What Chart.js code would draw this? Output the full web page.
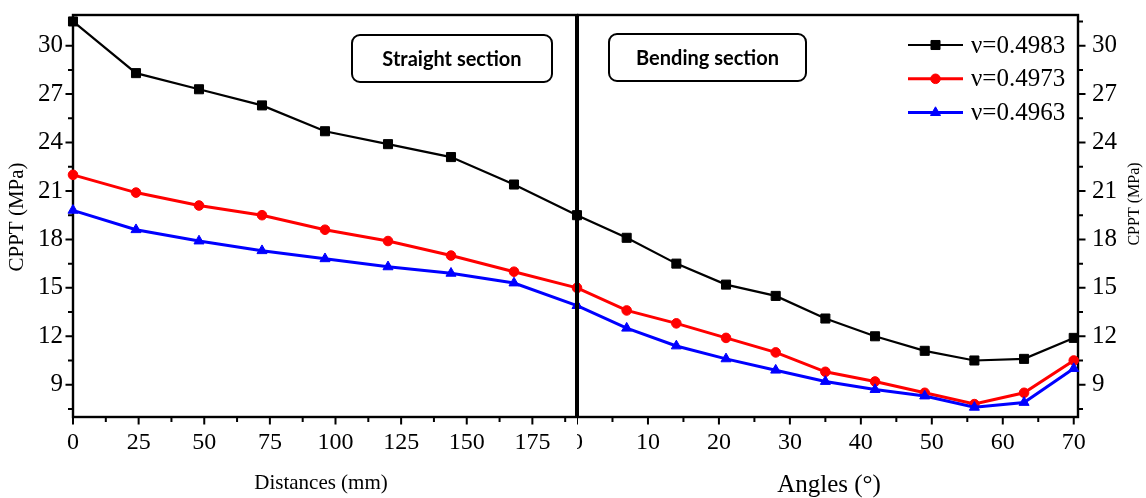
<!DOCTYPE html>
<html>
<head>
<meta charset="utf-8">
<title>CPPT along straight and bending sections</title>
<script src="https://cdn.jsdelivr.net/npm/chart.js@4.4.1/dist/chart.umd.min.js"></script>
<style>
  html, body { margin: 0; padding: 0; background: #ffffff; }
  #stage { position: relative; width: 1146px; height: 498px; overflow: hidden; background: #ffffff; }
  #stage canvas { position: absolute; top: 0; }
  #straight { left: 0; }
  #bending { left: 577px; }
</style>
</head>
<body>
<div id="stage">
  <canvas id="straight" width="580" height="498"></canvas>
  <canvas id="bending" width="569" height="498"></canvas>
</div>
<script>
// ---- data ----
const distances = [0, 24, 48, 72, 96, 120, 144, 168, 192];
const angles = [0, 7, 14, 21, 28, 35, 42, 49, 56, 63, 70];

const straightV4983 = [31.5, 28.3, 27.3, 26.3, 24.7, 23.9, 23.1, 21.4, 19.5];
const straightV4973 = [22.0, 20.9, 20.1, 19.5, 18.6, 17.9, 17.0, 16.0, 15.0];
const straightV4963 = [19.8, 18.6, 17.9, 17.3, 16.8, 16.3, 15.9, 15.3, 13.9];

const bendingV4983 = [19.5, 18.1, 16.5, 15.2, 14.5, 13.1, 12.0, 11.1, 10.5, 10.6, 11.9];
const bendingV4973 = [15.0, 13.6, 12.8, 11.9, 11.0, 9.8, 9.2, 8.5, 7.8, 8.5, 10.5];
const bendingV4963 = [13.9, 12.5, 11.4, 10.6, 9.9, 9.2, 8.7, 8.3, 7.6, 7.9, 10.0];

const seriesLabels = ['ν=0.4983', 'ν=0.4973', 'ν=0.4963'];

const cpptTicks = [7.5, 9, 10.5, 12, 13.5, 15, 16.5, 18, 19.5, 21, 22.5, 24, 25.5, 27, 28.5, 30, 31.5];
const cpptLabels = [9, 12, 15, 18, 21, 24, 27, 30];
const distanceTicks = [0, 12.5, 25, 37.5, 50, 62.5, 75, 87.5, 100, 112.5, 125, 137.5, 150, 162.5, 175, 187.5];
const distanceLabels = [0, 25, 50, 75, 100, 125, 150, 175];
const angleTicks = [0, 5, 10, 15, 20, 25, 30, 35, 40, 45, 50, 55, 60, 65, 70];
const angleLabels = [0, 10, 20, 30, 40, 50, 60, 70];

// ---- styling ----
const SERIF = 'Liberation Serif, serif';
Chart.defaults.font.family = SERIF;
Chart.defaults.color = '#000';

const seriesStyle = [
  { color: '#000000', pointStyle: 'rect', radius: 6.4, lineWidth: 2.2, order: 2 },
  { color: '#ff0000', pointStyle: 'circle', radius: 4.8, lineWidth: 3, order: 1 },
  { color: '#0000ff', pointStyle: 'triangle', radius: 5.8, lineWidth: 3, order: 0 }
];

function isLabelled(list, v) {
  return list.some(l => Math.abs(l - v) < 1e-6);
}

function toPoints(xs, ys) {
  return xs.map((x, i) => ({ x: x, y: ys[i] }));
}

function buildDatasets(xs, seriesList) {
  return seriesList.map((ys, i) => {
    const s = seriesStyle[i];
    return {
      label: seriesLabels[i],
      data: toPoints(xs, ys),
      borderColor: s.color,
      backgroundColor: s.color,
      borderWidth: s.lineWidth,
      pointStyle: s.pointStyle,
      pointRadius: s.radius,
      pointBorderWidth: 1,
      pointBorderColor: s.color,
      pointBackgroundColor: s.color,
      tension: 0,
      clip: false,
      order: s.order
    };
  });
}

function drawMarker(ctx, style, x, y, r, color) {
  ctx.save();
  ctx.fillStyle = color;
  ctx.strokeStyle = color;
  ctx.lineWidth = 1;
  ctx.beginPath();
  if (style === 'rect') {
    const h = r * Math.SQRT1_2;
    ctx.rect(x - h, y - h, 2 * h, 2 * h);
  } else if (style === 'circle') {
    ctx.arc(x, y, r, 0, Math.PI * 2);
  } else {
    const side = 3 * r / Math.sqrt(3);
    const height = side * Math.sqrt(3) / 2;
    ctx.moveTo(x - side / 2, y + height / 3);
    ctx.lineTo(x + side / 2, y + height / 3);
    ctx.lineTo(x, y - 2 * height / 3);
    ctx.closePath();
  }
  ctx.fill();
  ctx.stroke();
  ctx.restore();
}

function roundedBox(ctx, x, y, w, h, r) {
  ctx.beginPath();
  ctx.moveTo(x + r, y);
  ctx.lineTo(x + w - r, y);
  ctx.arcTo(x + w, y, x + w, y + r, r);
  ctx.lineTo(x + w, y + h - r);
  ctx.arcTo(x + w, y + h, x + w - r, y + h, r);
  ctx.lineTo(x + r, y + h);
  ctx.arcTo(x, y + h, x, y + h - r, r);
  ctx.lineTo(x, y + r);
  ctx.arcTo(x, y, x + r, y, r);
  ctx.closePath();
}

// Frame, tick marks, titles, section tag and (optionally) legend for one panel
function panelDecor(cfg) {
  return {
    id: 'panelDecor',
    beforeDatasetsDraw(chart) {
      const { ctx, chartArea: a, scales } = chart;
      ctx.save();
      ctx.strokeStyle = '#000';
      ctx.lineWidth = 2.4;
      ctx.strokeRect(a.left, a.top, a.right - a.left, a.bottom - a.top);
      ctx.lineWidth = 2;
      ctx.beginPath();
      scales.x.ticks.forEach(t => {
        const px = scales.x.getPixelForValue(t.value);
        const len = isLabelled(cfg.xLabels, t.value) ? 7.5 : 5;
        ctx.moveTo(px, a.bottom);
        ctx.lineTo(px, a.bottom + len);
      });
      scales.y.ticks.forEach(t => {
        const py = scales.y.getPixelForValue(t.value);
        const len = isLabelled(cpptLabels, t.value) ? 7.5 : 5;
        if (cfg.ySide === 'left') {
          ctx.moveTo(a.left - len, py);
          ctx.lineTo(a.left, py);
        } else {
          ctx.moveTo(a.right, py);
          ctx.lineTo(a.right + len, py);
        }
      });
      ctx.stroke();
      ctx.restore();
    },
    afterDatasetsDraw(chart) {
      const { ctx, chartArea: a } = chart;
      ctx.save();
      ctx.fillStyle = '#000';
      ctx.fillRect(cfg.dividerX - cfg.dividerLeft, a.top - 1, cfg.dividerW, a.bottom - a.top + 2);
      ctx.restore();
    },
    afterDraw(chart) {
      const { ctx } = chart;
      ctx.save();
      ctx.fillStyle = '#000';
      // x axis title
      ctx.font = cfg.xTitleFont;
      ctx.textAlign = 'center';
      ctx.textBaseline = 'middle';
      ctx.fillText(cfg.xTitle, cfg.xTitlePos[0], cfg.xTitlePos[1]);
      // y axis title
      ctx.save();
      ctx.translate(cfg.yTitlePos[0], cfg.yTitlePos[1]);
      ctx.rotate(-Math.PI / 2);
      ctx.font = cfg.yTitleFont;
      ctx.fillText('CPPT (MPa)', 0, 0);
      ctx.restore();
      // section tag
      const b = cfg.tag;
      ctx.lineWidth = 2;
      ctx.strokeStyle = '#000';
      roundedBox(ctx, b.x, b.y, b.w, b.h, 8);
      ctx.fillStyle = '#fff';
      ctx.fill();
      ctx.stroke();
      ctx.fillStyle = '#000';
      ctx.font = '700 20px Lato, sans-serif';
      ctx.fillText(b.text, b.x + b.w / 2, b.y + b.h / 2 + 1);
      // legend
      if (cfg.legend) {
        const L = cfg.legend;
        chart.data.datasets.forEach((ds, i) => {
          const s = seriesStyle[i];
          const y = L.y0 + i * L.dy;
          ctx.strokeStyle = s.color;
          ctx.lineWidth = s.lineWidth;
          ctx.beginPath();
          ctx.moveTo(L.x0, y);
          ctx.lineTo(L.x1, y);
          ctx.stroke();
          drawMarker(ctx, s.pointStyle, (L.x0 + L.x1) / 2, y, s.radius, s.color);
          ctx.fillStyle = '#000';
          ctx.font = '25px ' + SERIF;
          ctx.textAlign = 'left';
          ctx.textBaseline = 'middle';
          ctx.fillText(ds.label, L.tx, y + 1);
        });
      }
      ctx.restore();
    }
  };
}

function xScale(min, max, ticks, labels) {
  return {
    type: 'linear',
    position: 'bottom',
    min: min,
    max: max,
    afterBuildTicks: s => { s.ticks = ticks.map(v => ({ value: v })); },
    afterFit: s => { s.height = 81; s.paddingLeft = 0; s.paddingRight = 0; },
    grid: { display: false, drawTicks: false },
    border: { display: false },
    ticks: {
      autoSkip: false,
      maxRotation: 0,
      padding: 11,
      color: '#000',
      font: { family: SERIF, size: 24 },
      callback: v => isLabelled(labels, v) ? String(v) : ''
    }
  };
}

function yScale(position, width, padding) {
  return {
    type: 'linear',
    position: position,
    min: 7,
    max: 31.9,
    afterBuildTicks: s => { s.ticks = cpptTicks.map(v => ({ value: v })); },
    afterFit: s => { s.width = width; s.paddingTop = 0; s.paddingBottom = 0; },
    grid: { display: false, drawTicks: false },
    border: { display: false },
    ticks: {
      autoSkip: false,
      padding: padding,
      color: '#000',
      font: { family: SERIF, size: 25 },
      callback: v => isLabelled(cpptLabels, v) ? String(v) : ''
    }
  };
}

const common = {
  responsive: false,
  animation: false,
  devicePixelRatio: 1,
  plugins: { legend: { display: false }, tooltip: { enabled: false }, title: { display: false } },
  elements: { line: { borderJoinStyle: 'miter' } }
};

function start() {
  new Chart(document.getElementById('straight'), {
    type: 'line',
    data: { datasets: buildDatasets(distances, [straightV4983, straightV4973, straightV4963]) },
    options: Object.assign({}, common, {
      layout: { autoPadding: false, padding: { left: 0, top: 15, right: 3, bottom: 0 } },
      scales: { x: xScale(0, 192, distanceTicks, distanceLabels), y: yScale('left', 73, 10) }
    }),
    plugins: [panelDecor({
      ySide: 'left',
      xLabels: distanceLabels,
      dividerX: 577, dividerLeft: 2, dividerW: 4,
      xTitle: 'Distances (mm)', xTitleFont: '21px ' + SERIF, xTitlePos: [321, 483],
      yTitleFont: '21px ' + SERIF, yTitlePos: [17, 217],
      tag: { x: 352, y: 35, w: 200, h: 47, text: 'Straight section' }
    })]
  });

  new Chart(document.getElementById('bending'), {
    type: 'line',
    data: { datasets: buildDatasets(angles, [bendingV4983, bendingV4973, bendingV4963]) },
    options: Object.assign({}, common, {
      layout: { autoPadding: false, padding: { left: 0, top: 15, right: 0, bottom: 0 } },
      scales: { x: xScale(0, 70.6, angleTicks, angleLabels), y: yScale('right', 68, 14) }
    }),
    plugins: [panelDecor({
      ySide: 'right',
      xLabels: angleLabels,
      dividerX: 0, dividerLeft: 0, dividerW: 2,
      xTitle: 'Angles (°)', xTitleFont: '25px ' + SERIF, xTitlePos: [252, 485],
      yTitleFont: '16px ' + SERIF, yTitlePos: [558, 204],
      tag: { x: 32, y: 34, w: 197, h: 47, text: 'Bending section' },
      legend: { x0: 331, x1: 386, y0: 45, dy: 33.8, tx: 394 }
    })]
  });
}

const fontsReady = document.fonts && document.fonts.load
  ? Promise.all([
      document.fonts.load('25px Liberation Serif'),
      document.fonts.load('700 20px Lato')
    ]).catch(() => null)
  : Promise.resolve();
fontsReady.then(start);
</script>
</body>
</html>
